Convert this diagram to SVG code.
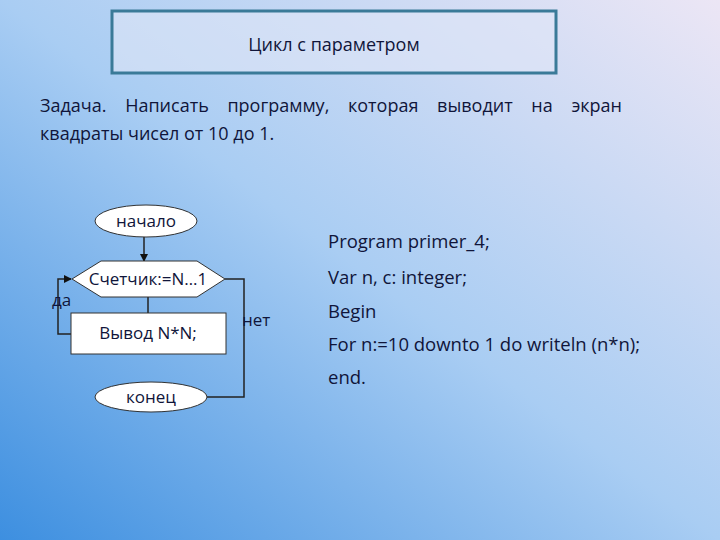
<svg xmlns="http://www.w3.org/2000/svg" width="720" height="540" viewBox="0 0 720 540">
<defs>
<linearGradient id="bg" x1="0" y1="1" x2="1" y2="0">
<stop offset="0" stop-color="#3d8fe0"/>
<stop offset="0.5" stop-color="#a9cdf3"/>
<stop offset="1" stop-color="#ece6f5"/>
</linearGradient>
<marker id="ar" markerWidth="8" markerHeight="8" refX="7" refY="4" orient="auto" markerUnits="userSpaceOnUse">
<path d="M0,0 L8,4 L0,8 z" fill="#111"/>
</marker>
<style>
text{font-family:"Open Sans","Liberation Sans",sans-serif;fill:#10153a;font-weight:500}
.n{fill:#fff;stroke:#333;stroke-width:1}
.c{fill:none;stroke:#222;stroke-width:1.5}
.t{font-size:17px}
</style>
</defs>
<rect width="720" height="540" fill="url(#bg)"/>
<g id="title">
<rect x="112" y="11" width="444" height="62" fill="#dfe6f6" fill-opacity="0.6" stroke="#3a7a98" stroke-width="3"/>
<text x="334" y="51" font-size="18" text-anchor="middle">Цикл с параметром</text>
</g>
<g id="task">
<text x="40" y="112" font-size="18" word-spacing="14">Задача. Написать программу, которая выводит на экран</text>
<text x="40" y="140" font-size="18">квадраты чисел от 10 до 1.</text>
</g>
<g id="connectors">
<line class="c" x1="144" y1="237" x2="144" y2="261" marker-end="url(#ar)"/>
<line class="c" x1="148" y1="297" x2="148" y2="313" stroke-width="1"/>
<polyline class="c" points="71,334 58,334 58,279 71,279" marker-end="url(#ar)"/>
<polyline class="c" points="225,279 244,279 244,397 207,397"/>
</g>
<g id="start"><ellipse class="n" cx="146" cy="221" rx="51" ry="16"/><text class="t" x="146" y="227" text-anchor="middle">начало</text></g>
<g id="loop"><polygon class="n" points="72,279 101,261 197,261 225,279 197,297 101,297"/><text class="t" x="148" y="285" text-anchor="middle">Счетчик:=N…1</text></g>
<g id="out"><rect class="n" x="71" y="313" width="155" height="41"/><text class="t" x="148" y="339" text-anchor="middle">Вывод N*N;</text></g>
<g id="end"><ellipse class="n" cx="151" cy="397" rx="56" ry="15"/><text class="t" x="151" y="403" text-anchor="middle">конец</text></g>
<text class="t" x="52" y="306">да</text>
<text class="t" x="242" y="326">нет</text>
<g id="code">
<text x="328" y="248" font-size="18.5">Program primer_4;</text>
<text x="328" y="284" font-size="18.5">Var  n, c: integer;</text>
<text x="328" y="318" font-size="18.5">Begin</text>
<text x="328" y="351" font-size="18.5">For n:=10 downto 1 do writeln (n*n);</text>
<text x="328" y="384" font-size="18.5">end.</text>
</g>
</svg>
